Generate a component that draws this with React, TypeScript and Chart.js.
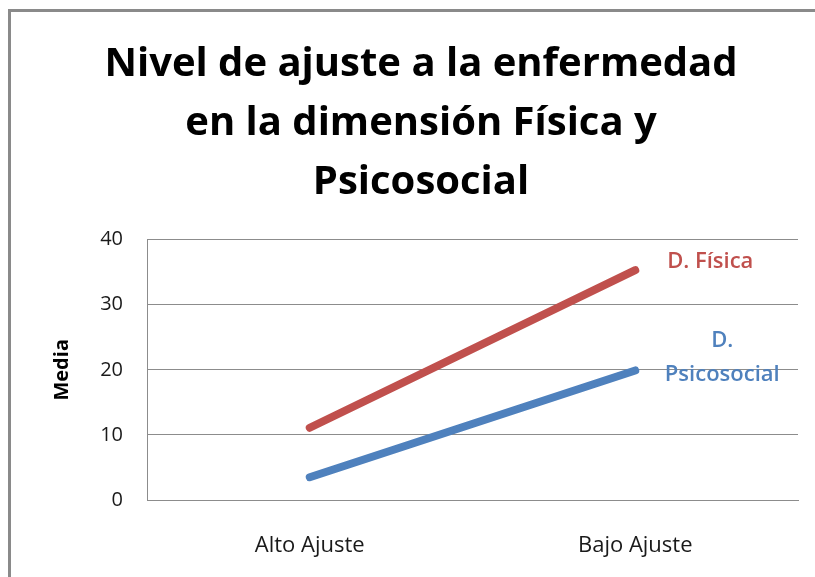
import React, { useEffect, useRef } from "react";
import { Chart, registerables } from "chart.js";

Chart.register(...registerables);

const categories = ["Alto Ajuste", "Bajo Ajuste"];
const fisicaValues = [11.1, 35.3];
const psicosocialValues = [3.5, 19.9];
const seriesNames = ["D. Física", "D. Psicosocial"];
const seriesLabelLines = [["D. Física"], ["D.", "Psicosocial"]];
const titleLines = ["Nivel de ajuste a la enfermedad", "en la dimensión Física y", "Psicosocial"];
const yAxisTitle = "Media";
const yTicks = [0, 10, 20, 30, 40];

const RED = "#C0504D";
const BLUE = "#4F81BD";
const FONT = "'Open Sans', Lato, sans-serif";

export default function App() {
  const ref = useRef<HTMLCanvasElement | null>(null);

  useEffect(() => {
    if (!ref.current) return;
    const framePlugin = {
      id: "frame",
      beforeDraw(chart: any) {
        const ctx = chart.ctx;
        ctx.save();
        ctx.fillStyle = "#ffffff";
        ctx.fillRect(0, 0, chart.width, chart.height);
        ctx.fillStyle = "#8a8a8a";
        ctx.fillRect(8, 9, 3, chart.height - 9);
        ctx.fillRect(8, 9, chart.width - 8, 3);
        ctx.restore();
      },
    };
    const seriesLabelPlugin = {
      id: "seriesLabels",
      afterDatasetsDraw(chart: any) {
        const ctx = chart.ctx;
        ctx.save();
        ctx.font = `600 22px ${FONT}`;
        ctx.textAlign = "center";
        ctx.textBaseline = "middle";
        const offsets = [
          { dx: 75, dy: -8 },
          { dx: 87, dy: -30 },
        ];
        chart.data.datasets.forEach((ds: any, i: number) => {
          const meta = chart.getDatasetMeta(i);
          const pt = meta.data[meta.data.length - 1];
          const lines = seriesLabelLines[i];
          ctx.fillStyle = ds.borderColor;
          lines.forEach((t: string, j: number) => {
            ctx.fillText(t, pt.x + offsets[i].dx, pt.y + offsets[i].dy + j * 34);
          });
        });
        ctx.restore();
      },
    };

    const chart = new Chart(ref.current, {
      type: "line",
      data: {
        labels: categories,
        datasets: [
          {
            label: seriesNames[0],
            data: fisicaValues,
            borderColor: RED,
            backgroundColor: RED,
            borderWidth: 8,
            borderCapStyle: "round",
            pointRadius: 0,
            tension: 0,
          },
          {
            label: seriesNames[1],
            data: psicosocialValues,
            borderColor: BLUE,
            backgroundColor: BLUE,
            borderWidth: 8,
            borderCapStyle: "round",
            pointRadius: 0,
            tension: 0,
          },
        ],
      },
      options: {
        animation: false,
        responsive: false,
        layout: { padding: { left: 44, right: 17, top: 0, bottom: 0 } },
        plugins: {
          legend: { display: false },
          tooltip: { enabled: false },
          title: {
            display: true,
            text: titleLines,
            color: "#000000",
            font: { family: FONT, size: 40, weight: "bold", lineHeight: 1.48 },
            padding: { top: 35, bottom: 27 },
          },
        },
        scales: {
          x: {
            offset: true,
            grid: { display: false, drawTicks: false },
            border: { display: true, color: "#8c8c8c", width: 1 },
            ticks: {
              color: "#1a1a1a",
              font: { family: FONT, size: 22 },
              padding: 33,
            },
            afterFit(scale: any) {
              scale.height = 77;
            },
          },
          y: {
            min: 0,
            max: 40,
            afterBuildTicks(scale: any) {
              scale.ticks = yTicks.map((v) => ({ value: v }));
            },
            grid: { color: "#8c8c8c", lineWidth: 1, drawTicks: false },
            border: { display: true, color: "#8c8c8c", width: 1 },
            ticks: {
              color: "#1a1a1a",
              font: { family: FONT, size: 20 },
              padding: 24,
            },
            title: {
              display: true,
              text: yAxisTitle,
              color: "#000000",
              font: { family: FONT, size: 20, weight: "bold" },
              padding: { top: 6, bottom: 0 },
            },
            afterFit(scale: any) {
              scale.width = 103;
            },
          },
        },
      },
      plugins: [framePlugin, seriesLabelPlugin],
    } as any);
    return () => chart.destroy();
  }, []);

  return (
    <div style={{ position: "fixed", left: 0, top: 0, width: 815, height: 577, background: "#fff" }}>
      <canvas ref={ref} width={815} height={577} style={{ display: "block" }} />
    </div>
  );
}
